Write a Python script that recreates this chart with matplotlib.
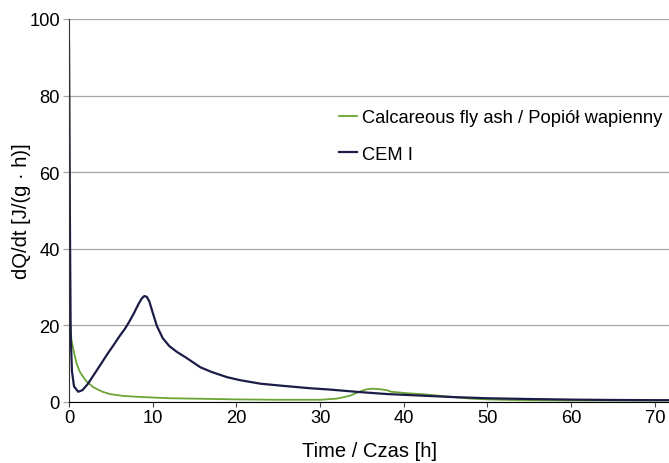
import numpy as np
import matplotlib
matplotlib.use('Agg')
import matplotlib.pyplot as plt

plt.rcParams['font.family'] = ['Liberation Sans', 'DejaVu Sans']

# CEM I heat flow curve
t_cem = [0, 0.1, 0.2, 0.35, 0.6, 1.1, 1.6, 2.2, 2.9, 3.8, 4.6, 5.3, 6.0, 6.7, 7.2,
         7.8, 8.3, 8.7, 9.0, 9.3, 9.6, 10.0, 10.5, 11.2, 12.0, 12.9, 14.0, 15.7,
         17.0, 18.9, 20.5, 22.9, 25.3, 28.9, 31.0, 34.8, 38, 42, 46, 50, 55, 60,
         65, 70, 72]
q_cem = [94, 50, 18, 8, 4, 2.6, 3.0, 4.5, 6.8, 9.8, 12.5, 14.7, 17.0, 19.1, 20.9,
         23.3, 25.5, 27.0, 27.6, 27.4, 26.2, 23.3, 19.8, 16.6, 14.5, 13.0, 11.5,
         9.0, 7.8, 6.4, 5.6, 4.7, 4.2, 3.5, 3.2, 2.5, 2.0, 1.6, 1.2, 0.9, 0.7, 0.55,
         0.45, 0.4, 0.4]

# calcareous fly ash heat flow curve
t_ash = [0, 0.05, 0.1, 0.3, 0.5, 0.9, 1.3, 2.0, 2.9, 4.0, 4.9, 6.5, 8.9, 12, 15,
         20, 25, 30, 32, 33.5, 34.8, 35.5, 36.2, 37, 38, 38.5, 40.5, 42.6, 45, 48,
         50, 53.6, 60, 72]
q_ash = [100, 60, 22, 16, 13.9, 10, 7.8, 5.5, 3.8, 2.6, 2.0, 1.5, 1.2, 0.9, 0.8,
         0.6, 0.5, 0.5, 0.8, 1.5, 2.7, 3.2, 3.4, 3.3, 3.0, 2.6, 2.2, 1.9, 1.4, 0.8,
         0.6, 0.4, 0.3, 0.3]

fig = plt.figure(figsize=(6.69, 4.64), dpi=100)
ax = fig.add_axes([69/669, 1 - 402.7/464, 1 - 69/669, (402.7 - 20)/464])

ax.plot(t_ash, q_ash, color='#6aa535', lw=1.3, label='Calcareous fly ash / Popiół wapienny')
ax.plot(t_cem, q_cem, color='#1c1c48', lw=1.6, label='CEM I')

ax.set_xlim(0, 71.7)
ax.set_ylim(0, 100)
ax.set_xticks(np.arange(0, 71, 10))
ax.set_yticks(np.arange(0, 101, 20))
ax.yaxis.grid(True, color='#a6a6a6', lw=0.9)
ax.set_axisbelow(True)
for s in ['top', 'right']:
    ax.spines[s].set_visible(False)
ax.spines['left'].set_color('#333333')
ax.spines['bottom'].set_color('black')
ax.tick_params(labelsize=13.2, labelcolor='black')
ax.tick_params(axis='y', length=4.5, width=0.9, color='#a6a6a6', pad=2)
ax.tick_params(axis='x', length=3.6, width=0.8, color='#444444', pad=1.3)

ax.set_xlabel('Time / Czas [h]', fontsize=14.5, labelpad=11)
ax.set_ylabel('dQ/dt [J/(g · h)]', fontsize=14.5)
ax.yaxis.set_label_coords((31 - 69) / 600, 0.5)

ax.legend(loc='upper left', bbox_to_anchor=(332/669, 1 - 103/464),
          bbox_transform=fig.transFigure, frameon=False, fontsize=13.2,
          handlelength=0.95, handletextpad=0.27, labelspacing=1.05,
          borderaxespad=0)

fig.savefig('out.png', dpi=100)
